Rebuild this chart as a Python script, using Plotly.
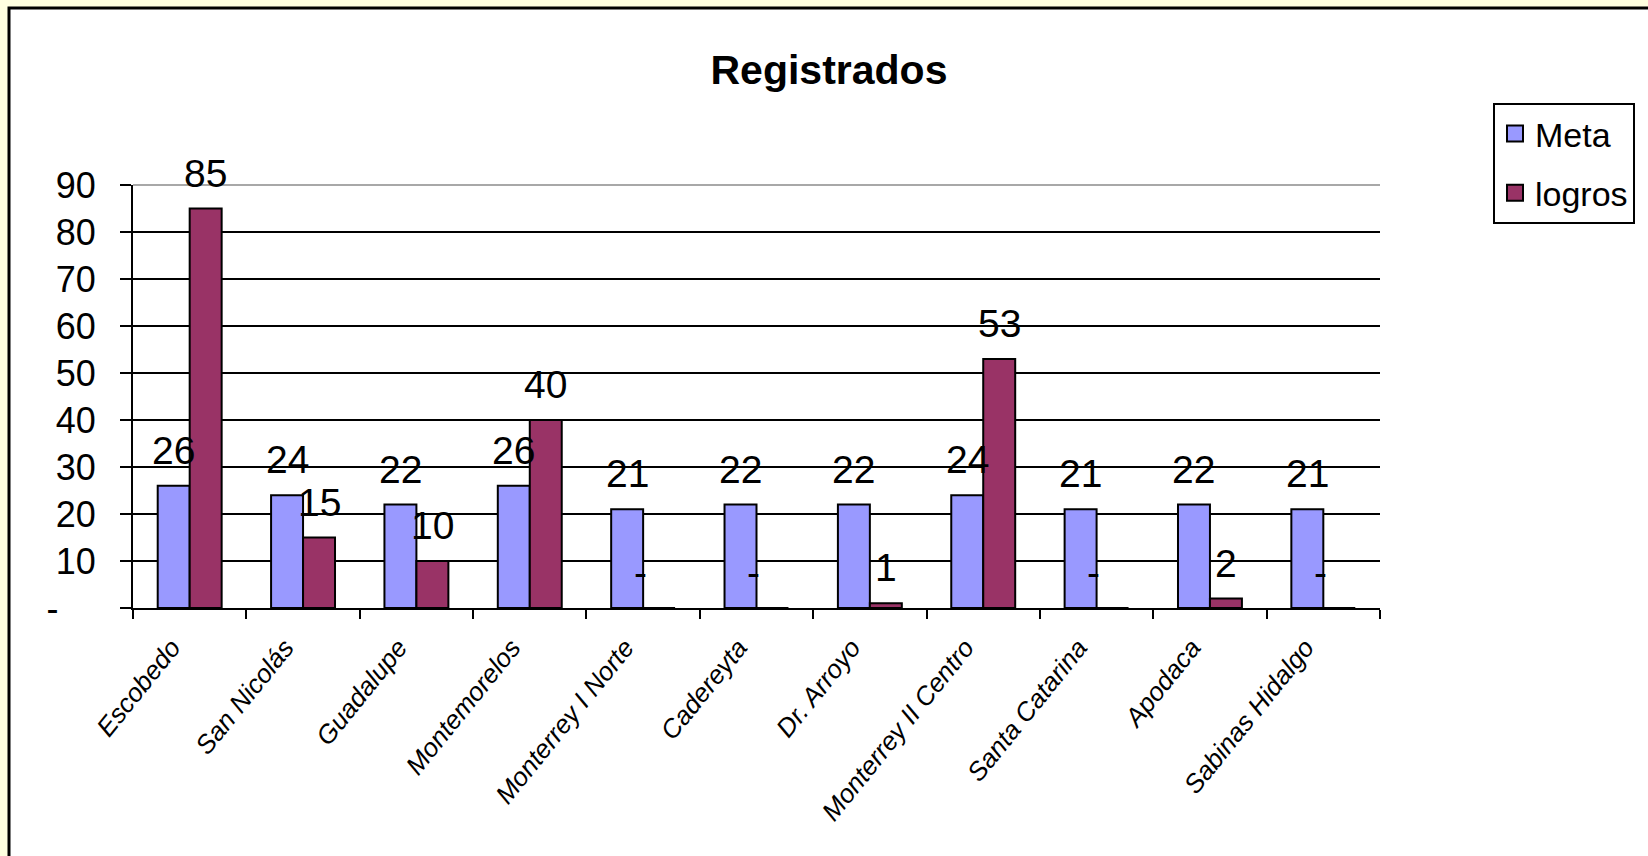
import plotly.graph_objects as go

categories = ["Escobedo", "San Nicolás", "Guadalupe", "Montemorelos", "Monterrey I Norte",
              "Cadereyta", "Dr. Arroyo", "Monterrey II Centro", "Santa Catarina", "Apodaca",
              "Sabinas Hidalgo"]
meta = [26, 24, 22, 26, 21, 22, 22, 24, 21, 22, 21]
logros = [85, 15, 10, 40, 0, 0, 1, 53, 0, 2, 0]
y_ticks = [0, 10, 20, 30, 40, 50, 60, 70, 80, 90]
y_ticktext = ["-\u00a0\u00a0\u00a0\u2009"] + [str(v) for v in y_ticks[1:]]

FONT = "Liberation Sans, Arial, sans-serif"
META_COLOR = "#9999FF"
LOGROS_COLOR = "#993366"

fig = go.Figure()
fig.add_trace(go.Bar(name="Meta", x=categories, y=meta, marker=dict(color=META_COLOR, line=dict(color="black", width=2)),
                     legendgroup="a", showlegend=False))
fig.add_trace(go.Bar(name="logros", x=categories, y=logros, marker=dict(color=LOGROS_COLOR, line=dict(color="black", width=2)),
                     legendgroup="b", showlegend=False))
for nm, col, grp in [("Meta", META_COLOR, "a"), ("logros", LOGROS_COLOR, "b")]:
    fig.add_trace(go.Scatter(name=nm, x=[None], y=[None], mode="markers", legendgroup=grp,
                             marker=dict(symbol="square", size=20, color=col, line=dict(color="black", width=2))))

annotations = []
half_bar = 16
for series, shift in [(meta, -half_bar), (logros, half_bar)]:
    for c, v in zip(categories, series):
        txt = "-" if v == 0 else str(v)
        annotations.append(dict(x=c, y=v, xref="x", yref="y", text=txt, showarrow=False,
                                yanchor="bottom", xanchor="center",
                                xshift=shift - (19 if v == 0 else 0), yshift=12,
                                font=dict(family=FONT, size=39, color="black")))

fig.update_layout(
    width=1648, height=856,
    margin=dict(l=133, r=268, t=185, b=248),
    paper_bgcolor="#FFFFE0",
    plot_bgcolor="#C0C0C0",
    barmode="group", bargap=0.436, bargroupgap=0,
    title=dict(text="<b>Registrados</b>", x=829 / 1648, xanchor="center", y=1 - 70 / 856, yanchor="middle",
               font=dict(family=FONT, size=41, color="black")),
    font=dict(family=FONT, color="black"),
    legend=dict(x=(1635 - 133) / 1247, y=(608 - 103) / 423, xanchor="right", yanchor="top",
                bgcolor="white", bordercolor="black", borderwidth=2,
                font=dict(family=FONT, size=34, color="black"), tracegroupgap=12),
    annotations=annotations,
    shapes=[
        dict(type="rect", xref="paper", yref="paper", x0=(9 - 133) / 1247, x1=(1700 - 133) / 1247,
             y0=(608 - 900) / 423, y1=(608 - 8) / 423, fillcolor="white", line=dict(color="black", width=3),
             layer="below"),
        dict(type="line", xref="paper", yref="paper", x0=0, x1=1, y0=1, y1=1,
             line=dict(color="#A8A8A8", width=2), layer="above"),
    ],
    xaxis=dict(type="category", tickson="boundaries", ticks="outside", ticklen=9, tickwidth=2, tickcolor="black",
               showline=True, linecolor="black", linewidth=2, tickangle=-51,
               ticklabelshift=-18, ticklabelstandoff=12,
               tickfont=dict(family=FONT, size=26, color="black", style="italic"), showgrid=False),
    yaxis=dict(range=[0, 90], tickmode="array", tickvals=y_ticks, ticktext=y_ticktext,
               ticks="outside", ticklen=11, tickwidth=2, tickcolor="black",
               showline=True, linecolor="black", linewidth=2,
               showgrid=True, gridcolor="black", gridwidth=2, zeroline=False,
               tickfont=dict(family=FONT, size=36, color="black"), ticklabelstandoff=17),
)

fig.write_html("out.html", config={"displayModeBar": False},
               post_script="document.body.style.margin='0';document.body.style.overflow='hidden';")
